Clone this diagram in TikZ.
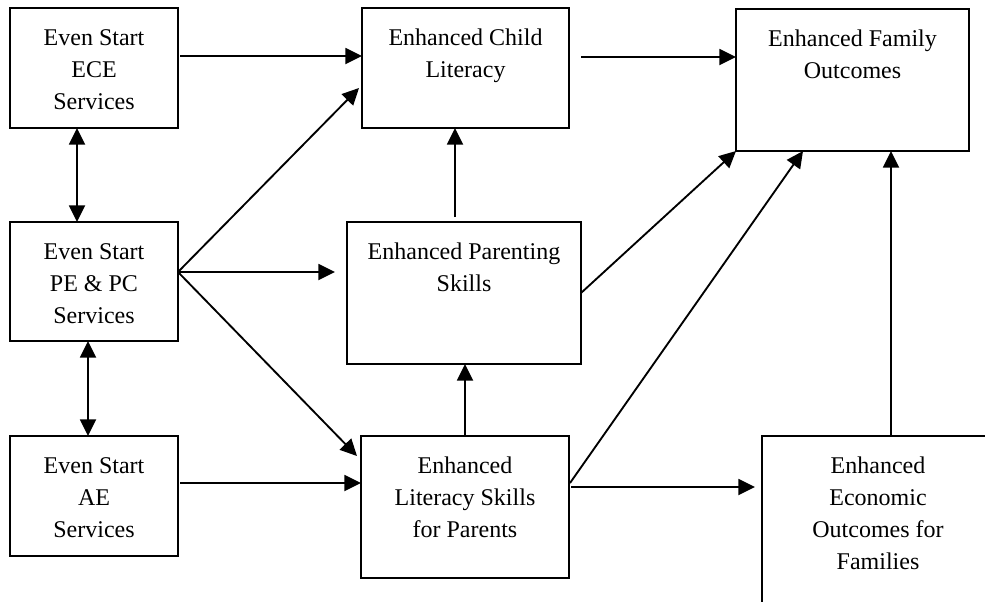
\documentclass[tikz,border=0pt]{standalone}
\usepackage{fontspec}
\setmainfont{Liberation Serif}
\usetikzlibrary{arrows.meta,calc}
\newcommand\topstrut{\rule{0pt}{14pt}}
\begin{document}
\begin{tikzpicture}[x=0.75pt,y=-0.75pt,
  box/.style={draw, line width=1.6pt, rectangle, inner sep=0pt, outer sep=0pt},
  txt/.style={font=\fontsize{18}{24}\selectfont, align=center, anchor=north, inner sep=0pt},
  arr/.style={line width=1.4pt, -{Triangle[length=12.5pt,width=12pt]}},
  darr/.style={line width=1.4pt, {Triangle[length=12.5pt,width=12pt]}-{Triangle[length=12.5pt,width=12pt]}}]
\useasboundingbox (0,0) rectangle (985,601);
\clip (0,0) rectangle (985,601);
\fill[white] (0,0) rectangle (985,601);

% boxes
\node[box, minimum width={168*0.75pt}, minimum height={120*0.75pt}] (ece) at (94,68) {};
\node[box, minimum width={168*0.75pt}, minimum height={119*0.75pt}] (pe) at (94,281.5) {};
\node[box, minimum width={168*0.75pt}, minimum height={120*0.75pt}] (ae) at (94,496) {};
\node[box, minimum width={207*0.75pt}, minimum height={120*0.75pt}] (child) at (465.5,68) {};
\node[box, minimum width={234*0.75pt}, minimum height={142*0.75pt}] (par) at (464,293) {};
\node[box, minimum width={208*0.75pt}, minimum height={142*0.75pt}] (lit) at (465,507) {};
\node[box, minimum width={233*0.75pt}, minimum height={142*0.75pt}] (fam) at (852.5,80) {};
\node[box, minimum width={232*0.75pt}, minimum height={170*0.75pt}] (econ) at (878,521) {};

% texts
\node[txt] (ece-t) at ($(ece.north)+(0,18.3)$) {\topstrut Even Start\\ECE\\Services};
\node[txt] (pe-t) at ($(pe.north)+(0,18.3)$) {\topstrut Even Start\\PE \& PC\\Services};
\node[txt] (ae-t) at ($(ae.north)+(0,18.3)$) {\topstrut Even Start\\AE\\Services};
\node[txt] (child-t) at ($(child.north)+(0,18.3)$) {\topstrut Enhanced Child\\Literacy};
\node[txt] (par-t) at ($(par.north)+(0,18.3)$) {\topstrut Enhanced Parenting\\Skills};
\node[txt] (lit-t) at ($(lit.north)+(0,18.3)$) {\topstrut Enhanced\\Literacy Skills\\for Parents};
\node[txt] (fam-t) at ($(fam.north)+(0,18.3)$) {\topstrut Enhanced Family\\Outcomes};
\node[txt] (econ-t) at ($(econ.north)+(0,18.3)$) {\topstrut Enhanced\\Economic\\Outcomes for\\Families};

% connectors
\coordinate (pes) at ($(pe.north east)+(0,50)$);
\draw[arr] ($(ece.north east)+(2,48)$) coordinate (a1) -- (a1 -| child.west);
\draw[arr] ($(child.north east)+(12,49)$) coordinate (a2) -- (a2 -| fam.west);
\draw[arr] (pes) -- ($(child.north west)+(-3,80)$);
\draw[arr] (pes) -- ($(pes -| par.west)+(-12,0)$);
\draw[arr] (pes) -- ($(lit.north west)+(-4,20)$);
\draw[arr] ($(ae.north east)+(2,47)$) coordinate (a6) -- (a6 -| lit.west);
\draw[arr] ($(par.north)+(-9,-5)$) coordinate (a7) -- (a7 |- child.south);
\draw[arr] (lit.north) -- (lit.north |- par.south);
\draw[arr] (par.east) -- (fam.south west);
\draw[arr] ($(lit.north east)+(1,47)$) -- ($(fam.south west)+(67,0)$);
\draw[arr] ($(lit.north east)+(2,51)$) coordinate (a11) -- ($(a11 -| econ.west)+(-7,0)$);
\coordinate (ex) at (891,0);
\draw[arr] (econ.north -| ex) -- (fam.south -| ex);
\draw[darr] ($(ece.south west)+(67,0)$) coordinate (a13) -- (a13 |- pe.north);
\draw[darr] ($(pe.south west)+(78,0)$) coordinate (a14) -- (a14 |- ae.north);
\end{tikzpicture}
\end{document}
